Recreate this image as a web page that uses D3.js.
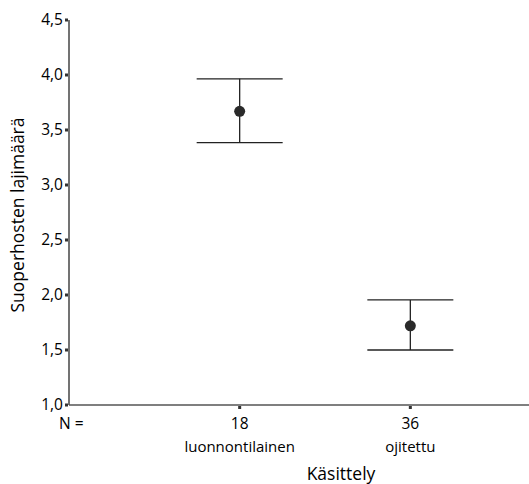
<!DOCTYPE html>
<html>
<head>
<meta charset="utf-8">
<script src="https://cdn.jsdelivr.net/npm/d3@7"></script>
<style>
  body { margin: 0; background: #fff; }
  text { font-family: "Open Sans", "Noto Sans", sans-serif; fill: #000; }
</style>
</head>
<body>
<script>
var w = 529,
    h = 484;

// Data
var categories = ['luonnontilainen', 'ojitettu'];
var counts = [18, 36];
var means = [3.67, 1.72];
var upper = [3.965, 1.955];
var lower = [3.385, 1.50];
var yTicks = [1.0, 1.5, 2.0, 2.5, 3.0, 3.5, 4.0, 4.5];

var data = categories.map(function(c, i) {
  return { cat: c, n: counts[i], mean: means[i], hi: upper[i], lo: lower[i] };
});

var svg = d3.select('body')
            .append('svg')
            .attr('width', w)
            .attr('height', h);

var left = 69,
    bottom = 405;

var y = d3.scaleLinear()
          .domain([1.0, 4.5])
          .range([bottom, 20]);

var x = d3.scalePoint()
          .domain(categories)
          .range([left, 581])
          .padding(1);

var fmt = function(d) { return d3.format('.1f')(d).replace('.', ','); };

// y axis
svg.append('line')
   .attr('x1', left).attr('x2', left)
   .attr('y1', y(4.5)).attr('y2', bottom)
   .attr('stroke', '#444')
   .attr('stroke-width', 1.5);

svg.selectAll('.ytick')
   .data(yTicks)
   .enter()
   .append('rect')
   .attr('class', 'ytick')
   .attr('x', left - 4)
   .attr('y', function(d) { return y(d) - 1.5; })
   .attr('width', 3)
   .attr('height', 3)
   .attr('fill', '#333');

svg.selectAll('.ylab')
   .data(yTicks)
   .enter()
   .append('text')
   .attr('class', 'ylab')
   .attr('x', left - 6)
   .attr('y', function(d) { return y(d); })
   .attr('dy', '0.35em')
   .attr('text-anchor', 'end')
   .style('font-size', '15.5px')
   .text(fmt);

// x axis
svg.append('line')
   .attr('x1', left).attr('x2', w)
   .attr('y1', bottom).attr('y2', bottom)
   .attr('stroke', '#555')
   .attr('stroke-width', 1.5);

svg.selectAll('.xtick')
   .data(data)
   .enter()
   .append('rect')
   .attr('class', 'xtick')
   .attr('x', function(d) { return x(d.cat) - 1.5; })
   .attr('y', bottom + 1)
   .attr('width', 3)
   .attr('height', 3)
   .attr('fill', '#333');

svg.append('text')
   .attr('x', 59)
   .attr('y', 429)
   .style('font-size', '15.5px')
   .text('N =');

svg.selectAll('.nlab')
   .data(data)
   .enter()
   .append('text')
   .attr('class', 'nlab')
   .attr('x', function(d) { return x(d.cat); })
   .attr('y', 429)
   .attr('text-anchor', 'middle')
   .style('font-size', '15.5px')
   .text(function(d) { return d.n; });

svg.selectAll('.clab')
   .data(data)
   .enter()
   .append('text')
   .attr('class', 'clab')
   .attr('x', function(d) { return x(d.cat); })
   .attr('y', 452)
   .attr('text-anchor', 'middle')
   .style('font-size', '15px')
   .text(function(d) { return d.cat; });

// axis titles
svg.append('text')
   .attr('x', 341)
   .attr('y', 480)
   .attr('text-anchor', 'middle')
   .style('font-size', '17.5px')
   .text('Käsittely');

svg.append('text')
   .attr('transform', 'translate(24,215) rotate(-90)')
   .attr('text-anchor', 'middle')
   .style('font-size', '17.5px')
   .text('Suoperhosten lajimäärä');

// error bars
var cap = 43;
var bars = svg.selectAll('.bar')
              .data(data)
              .enter()
              .append('g')
              .attr('class', 'bar');

bars.append('line')
    .attr('x1', function(d) { return x(d.cat); })
    .attr('x2', function(d) { return x(d.cat); })
    .attr('y1', function(d) { return y(d.hi); })
    .attr('y2', function(d) { return y(d.lo); })
    .attr('stroke', '#222')
    .attr('stroke-width', 1.3);

bars.append('line')
    .attr('x1', function(d) { return x(d.cat) - cap; })
    .attr('x2', function(d) { return x(d.cat) + cap; })
    .attr('y1', function(d) { return y(d.hi); })
    .attr('y2', function(d) { return y(d.hi); })
    .attr('stroke', '#222')
    .attr('stroke-width', 1.3);

bars.append('line')
    .attr('x1', function(d) { return x(d.cat) - cap; })
    .attr('x2', function(d) { return x(d.cat) + cap; })
    .attr('y1', function(d) { return y(d.lo); })
    .attr('y2', function(d) { return y(d.lo); })
    .attr('stroke', '#222')
    .attr('stroke-width', 1.3);

bars.append('circle')
    .attr('cx', function(d) { return x(d.cat); })
    .attr('cy', function(d) { return y(d.mean); })
    .attr('r', 5.5)
    .attr('fill', '#2a2a2a');
</script>
</body>
</html>
